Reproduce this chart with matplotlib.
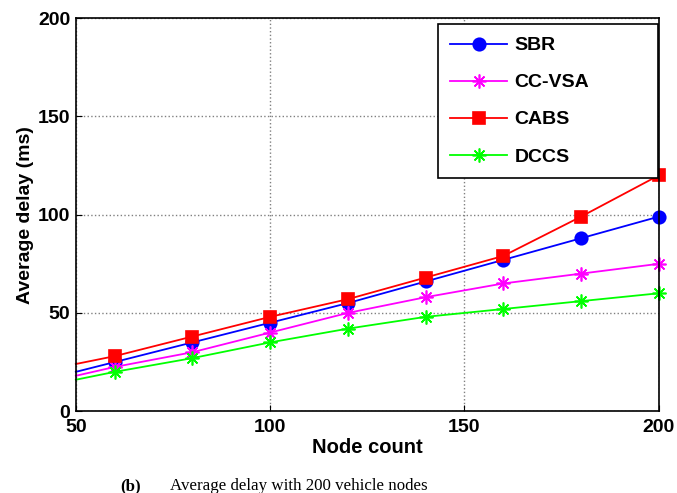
import matplotlib
matplotlib.use('Agg')
import matplotlib.pyplot as plt

# node counts (first point at 50 has no marker in the original)
node_count = [50, 60, 80, 100, 120, 140, 160, 180, 200]

sbr = [20, 25, 35, 45, 55, 66, 77, 88, 99]
cc_vsa = [18, 22.5, 30, 40, 50, 58, 65, 70, 75]
cabs = [24, 28, 38, 48, 57, 68, 79, 99, 120]
dccs = [16, 20, 27, 35, 42, 48, 52, 56, 60]

star = (8, 2, 0)  # matlab-like asterisk
series = [
    ("SBR", sbr, 'b', 'o', 9),
    ("CC-VSA", cc_vsa, 'magenta', star, 10),
    ("CABS", cabs, 'r', 's', 8),
    ("DCCS", dccs, 'lime', star, 10),
]

plt.rcParams['font.family'] = ['Liberation Sans', 'DejaVu Sans']

fig = plt.figure(figsize=(6.77, 4.93), dpi=100)
ax = fig.add_axes([0.112, 0.166, 0.861, 0.797])

for name, vals, col, mk, ms in series:
    ax.plot(node_count, vals, color=col, linewidth=1.3, marker=mk,
            markersize=ms, markeredgewidth=1.2,
            markevery=list(range(1, len(vals))), label=name, clip_on=False)

ax.set_xlim(50, 200)
ax.set_ylim(0, 200)
ax.set_xticks([50, 100, 150, 200])
ax.set_yticks([0, 50, 100, 150, 200])
ax.grid(True, linestyle=':', color='gray', linewidth=1.0)
ax.tick_params(direction='in', labelsize=14, length=4)
ax.tick_params(axis='x', pad=6)
ax.tick_params(axis='y', pad=4)
for lab in ax.get_xticklabels() + ax.get_yticklabels():
    lab.set_fontweight('bold')
for s in ax.spines.values():
    s.set_linewidth(1.2)

ax.set_xlabel("Node count", fontsize=14.5, fontweight='bold', labelpad=1)
ax.set_ylabel("Average delay (ms)", fontsize=14, fontweight='bold', labelpad=3)

# wide legend box with blank space on the right, like the matlab original
leg = ax.legend(loc='upper left', bbox_to_anchor=(0.621, 0.60, 0.377, 0.385),
                mode='expand', prop={'weight': 'bold', 'size': 14},
                fancybox=False, edgecolor='black', framealpha=1,
                borderaxespad=0.0, handlelength=2.9, labelspacing=1.0,
                borderpad=0.65, handletextpad=0.4)
leg.get_frame().set_linewidth(1.2)

fig.text(0.177, 0.014, "(b)", fontsize=12.2, fontweight='bold',
         family='Liberation Serif', va='center')
fig.text(0.251, 0.014, "Average delay with 200 vehicle nodes", fontsize=12.2,
         family='Liberation Serif', va='center')

fig.savefig('out.png', dpi=100)
